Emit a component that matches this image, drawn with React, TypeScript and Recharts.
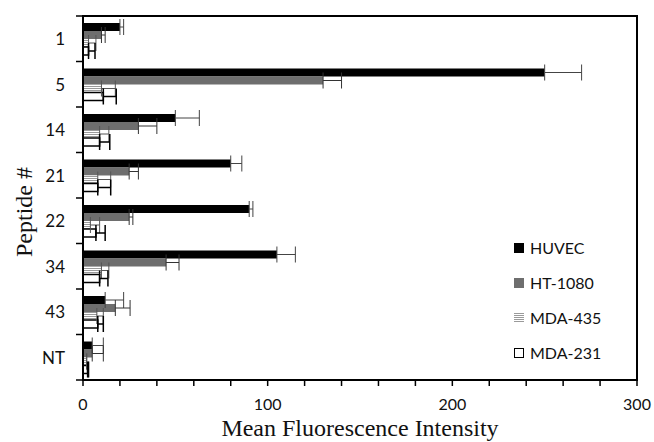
import React from "react";
import {
  BarChart,
  Bar,
  XAxis,
  YAxis,
  ErrorBar,
  Legend,
  ReferenceArea,
} from "recharts";

const peptides = ["1", "5", "14", "21", "22", "34", "43", "NT"];

const huvec = [20, 250, 50, 80, 90, 105, 12, 5];
const huvecErr = [2, 20, 13, 6, 2, 10, 10, 6];
const ht1080 = [10, 130, 30, 25, 25, 45, 17.5, 5];
const ht1080Err = [2, 10, 10, 5, 2, 7, 8, 6];
const mda435 = [3, 10, 9, 8, 4, 10, 7.5, 2];
const mda435Err = [4, 7.5, 5, 7, 5, 4, 3.5, 0];
const mda231 = [3, 11, 9, 8, 7, 9, 8, 2.5];
const mda231Err = [3.5, 7, 5.5, 7, 5, 4.5, 3, 0.5];

const xTicks = [0, 20, 40, 60, 80, 100, 120, 140, 160, 180, 200, 220, 240, 260, 280, 300];

const rows = peptides.map((p, i) => ({
  peptide: p,
  huvec: huvec[i],
  huvecErr: [0, huvecErr[i]],
  ht1080: ht1080[i],
  ht1080Err: [0, ht1080Err[i]],
  mda435: mda435[i],
  mda435Err: [0, mda435Err[i]],
  mda231: mda231[i],
  mda231Err: [0, mda231Err[i]],
}));

const sans = "Lato, 'Liberation Sans', sans-serif";
const serif = "'Liberation Serif', 'DejaVu Serif', serif";
const stripes = "repeating-linear-gradient(to bottom, #9a9a9a 0px, #9a9a9a 1px, #ffffff 1px, #ffffff 2px)";

const legendItems = [
  { name: "HUVEC", style: { background: "#000" } },
  { name: "HT-1080", style: { background: "#6e6e6e" } },
  { name: "MDA-435", style: { background: stripes } },
  { name: "MDA-231", style: { background: "#fff", border: "1px solid #000", boxSizing: "border-box" as const } },
];

const renderLegend = () => (
  <div style={{ fontFamily: sans, fontSize: 16, color: "#111" }}>
    {legendItems.map((it) => (
      <div key={it.name} style={{ height: 35, display: "flex", alignItems: "center" }}>
        <span style={{ display: "inline-block", width: 10, height: 10, marginRight: 6, ...it.style }} />
        <span>{it.name}</span>
      </div>
    ))}
  </div>
);

// category labels in the middle, tick marks on the band edges
const PeptideTick = (props: any) => {
  const { x, y, payload, index } = props;
  const half = payload && payload.offset ? payload.offset : 22.75;
  return (
    <g>
      <text
        x={x - 18}
        y={y}
        textAnchor="end"
        dominantBaseline="central"
        fontSize={17}
        fontFamily={sans}
        fill="#111"
      >
        {payload.value}
      </text>
      <line x1={x - 7} x2={x} y1={y + half} y2={y + half} stroke="#000" strokeWidth={1.5} />
      {index === 0 && (
        <line x1={x - 7} x2={x} y1={y - half} y2={y - half} stroke="#000" strokeWidth={1.5} />
      )}
    </g>
  );
};

export default function App() {
  return (
    <div style={{ position: "absolute", left: 0, top: 0 }}>
      <BarChart
        layout="vertical"
        width={654}
        height={442}
        data={rows}
        margin={{ top: 16, right: 17, left: 0, bottom: 0 }}
        barSize={8}
        barGap={0}
      >
        <defs>
          <pattern id="stripes" width="4" height="2" patternUnits="userSpaceOnUse">
            <rect x="0" y="0" width="4" height="2" fill="#fff" />
            <rect x="0" y="0" width="4" height="1" fill="#9a9a9a" />
          </pattern>
        </defs>
        <XAxis
          type="number"
          domain={[0, 300]}
          ticks={xTicks}
          interval={0}
          height={62}
          tickSize={6}
          tickMargin={13}
          tickFormatter={(v: number) => (v % 100 === 0 ? String(v) : "")}
          tick={{ fontSize: 16, fontFamily: sans, fill: "#111" }}
          axisLine={{ stroke: "#000", strokeWidth: 2 }}
          tickLine={{ stroke: "#000", strokeWidth: 1.5 }}
          label={{
            value: "Mean Fluorescence Intensity",
            position: "insideBottom",
            offset: 6,
            style: { fontSize: 24, fontFamily: serif, fill: "#111" },
          }}
        />
        <YAxis
          type="category"
          dataKey="peptide"
          width={83}
          tickLine={false}
          tickSize={0}
          tickMargin={0}
          interval={0}
          tick={<PeptideTick />}
          axisLine={{ stroke: "#000", strokeWidth: 2 }}
          label={{
            content: () => (
              <text
                x={24}
                y={212}
                transform="rotate(-90 24 212)"
                textAnchor="middle"
                dominantBaseline="central"
                fontSize={24}
                fontFamily={serif}
                fill="#111"
              >
                Peptide #
              </text>
            ),
          }}
        />
        <ReferenceArea x1={0} x2={300} fill="none" stroke="#000" strokeWidth={2} ifOverflow="visible" />
        <Bar dataKey="huvec" name="HUVEC" fill="#000" isAnimationActive={false}>
          <ErrorBar dataKey="huvecErr" direction="x" width={8} stroke="#444" strokeWidth={1} />
        </Bar>
        <Bar dataKey="ht1080" name="HT-1080" fill="#6e6e6e" isAnimationActive={false}>
          <ErrorBar dataKey="ht1080Err" direction="x" width={8} stroke="#333" strokeWidth={1} />
        </Bar>
        <Bar dataKey="mda435" name="MDA-435" fill="url(#stripes)" isAnimationActive={false}>
          <ErrorBar dataKey="mda435Err" direction="x" width={8} stroke="#555" strokeWidth={1} />
        </Bar>
        <Bar
          dataKey="mda231"
          name="MDA-231"
          fill="#fff"
          stroke="#000"
          strokeWidth={1.5}
          isAnimationActive={false}
        >
          <ErrorBar dataKey="mda231Err" direction="x" width={8} stroke="#000" strokeWidth={1.5} />
        </Bar>
        <Legend
          layout="vertical"
          align="center"
          verticalAlign="middle"
          content={renderLegend}
          wrapperStyle={{ left: 514, top: 230, width: 130 }}
        />
      </BarChart>
    </div>
  );
}
